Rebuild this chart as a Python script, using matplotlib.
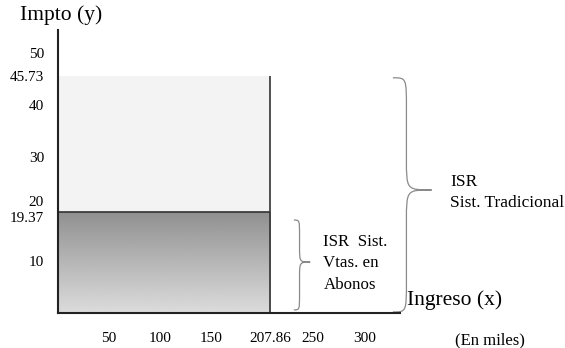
import numpy as np
import matplotlib.pyplot as plt
from matplotlib.path import Path
from matplotlib.patches import PathPatch

plt.rcParams['font.family'] = ['Liberation Serif', 'DejaVu Serif']

# values
ingreso_limite = 207.86
isr_tradicional = 45.73
isr_abonos = 19.37
y_ticks = [10, 19.37, 20, 30, 40, 45.73, 50]
y_labels = ['10', '19.37', '20', '30', '40', '45.73', '50']
x_ticks = [50, 100, 150, 207.86, 250, 300]
x_labels = ['50', '100', '150', '207.86', '250', '300']

fig = plt.figure(figsize=(5.65, 3.48), dpi=100)
ax = fig.add_axes([58 / 565, 35 / 348, 342 / 565, 283 / 348])

# shaded areas: light upper block, darker lower block with a soft scan-like fade
ax.bar(0, isr_tradicional - isr_abonos, bottom=isr_abonos, width=ingreso_limite,
       align='edge', color='#f3f3f3', linewidth=0)
shade = np.linspace(0.57, 0.86, 100).reshape(-1, 1)
ax.imshow(shade, extent=[0, ingreso_limite, 0, isr_abonos], cmap='gray',
          vmin=0, vmax=1, aspect='auto', origin='upper', zorder=1)
ax.hlines(isr_abonos, 0, ingreso_limite, color='#333333', lw=1.2, zorder=2)
ax.vlines(ingreso_limite, 0, isr_tradicional, color='#333333', lw=1.2, zorder=2)

ax.set_xlim(0, 335)
ax.set_ylim(0, 54.5)

for s in ['top', 'right']:
    ax.spines[s].set_visible(False)
for s in ['left', 'bottom']:
    ax.spines[s].set_linewidth(1.5)
    ax.spines[s].set_color('#222222')

ax.set_yticks(y_ticks, y_labels, fontsize=11)
ax.set_xticks(x_ticks, x_labels, fontsize=11)
ax.tick_params(axis='y', length=0, pad=10)
ax.tick_params(axis='x', length=0, pad=14)
for lbl in ax.get_yticklabels():
    if lbl.get_text() == '20':
        lbl.set_va('bottom')
    elif lbl.get_text() == '19.37':
        lbl.set_va('top')


def brace(x, y0, y1, ytip, w, r):
    m = x + w * 0.35
    verts = [(x, y1), (m, y1), (m, y1), (m, y1 - r),
             (m, ytip + r), (m, ytip), (m, ytip), (x + w, ytip),
             (m, ytip), (m, ytip), (m, ytip - r),
             (m, y0 + r), (m, y0), (m, y0), (x, y0)]
    codes = [Path.MOVETO, Path.CURVE4, Path.CURVE4, Path.CURVE4,
             Path.LINETO, Path.CURVE4, Path.CURVE4, Path.CURVE4,
             Path.CURVE4, Path.CURVE4, Path.CURVE4,
             Path.LINETO, Path.CURVE4, Path.CURVE4, Path.CURVE4]
    ax.add_patch(PathPatch(Path(verts, codes), fill=False, ec='#8a8a8a',
                           lw=0.9, clip_on=False))


brace(328, 0.2, 45.3, 23.7, 38, 6)
brace(231, 0.6, 17.9, 9.8, 16, 3)

ax.text(-37, 57.4, 'Impto (y)', fontsize=15.5, va='center', ha='left', clip_on=False)
ax.text(342, 2.5, 'Ingreso (x)', fontsize=15.5, va='center', ha='left', clip_on=False)
ax.text(389, -5.2, '(En miles)', fontsize=12, va='center', ha='left', clip_on=False)
ax.text(384, 26.8, 'ISR\nSist. Tradicional', fontsize=12.5, va='top', ha='left',
        linespacing=1.4, clip_on=False)
ax.text(260, 15.2, 'ISR  Sist.\nVtas. en\nAbonos', fontsize=12.2, va='top', ha='left',
        linespacing=1.45, clip_on=False)

fig.savefig('out.png', dpi=100)
